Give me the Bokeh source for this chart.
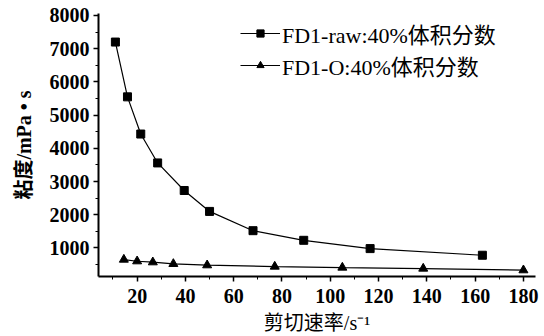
from bokeh.plotting import figure
from bokeh.models import Range1d, FixedTicker, Legend, LegendItem
from bokeh.embed import file_html
from bokeh.resources import INLINE

# Data
raw_x = [11, 16, 21.5, 28.5, 39.5, 50, 68, 89, 116.5, 163]
raw_y = [7200, 5550, 4430, 3560, 2730, 2100, 1520, 1230, 980, 780]
o_x = [14.5, 20, 26.5, 35, 49, 77, 105, 138.5, 180]
o_y = [650, 600, 570, 520, 480, 440, 410, 380, 330]

x_ticks = [20, 40, 60, 80, 100, 120, 140, 160, 180]
x_minor = [10, 30, 50, 70, 90, 110, 130, 150, 170]
y_ticks = [1000, 2000, 3000, 4000, 5000, 6000, 7000, 8000]
y_minor = [500, 1500, 2500, 3500, 4500, 5500, 6500, 7500]

label_raw = "FD1-raw:40%体积分数"
label_o = "FD1-O:40%体积分数"
x_title = "剪切速率/s⁻¹"
y_title = "粘度/mPa • s"

SERIF = "'Liberation Serif', 'Noto Sans CJK SC'"

p = figure(width=544, height=336, output_backend="svg", toolbar_location=None,
           x_range=Range1d(4, 185), y_range=Range1d(140, 8060),
           min_border_left=98, min_border_right=9, min_border_top=13, min_border_bottom=59)
p.outline_line_color = None
p.grid.visible = False
p.background_fill_color = "white"
p.border_fill_color = "white"

p.xaxis.ticker = FixedTicker(ticks=x_ticks, minor_ticks=x_minor)
p.yaxis.ticker = FixedTicker(ticks=y_ticks, minor_ticks=y_minor)

for ax in (p.xaxis, p.yaxis):
    ax.axis_line_width = 2
    ax.axis_line_color = "black"
    ax.major_tick_line_color = "black"
    ax.minor_tick_line_color = "black"
    ax.major_tick_line_width = 1.5
    ax.minor_tick_line_width = 1
    ax.major_tick_out = 5
    ax.major_tick_in = 0
    ax.minor_tick_out = 3
    ax.minor_tick_in = 0
    ax.major_label_text_font = "Liberation Serif"
    ax.major_label_text_font_style = "bold"
    ax.major_label_text_font_size = "20px"
    ax.major_label_text_color = "black"
    ax.axis_label_text_font = SERIF
    ax.axis_label_text_font_size = "20px"
    ax.axis_label_text_color = "black"

p.xaxis.major_label_standoff = 7
p.yaxis.major_label_standoff = 4
p.xaxis.axis_label = x_title
p.yaxis.axis_label = y_title
p.xaxis.axis_label_standoff = 6
p.yaxis.axis_label_standoff = 12
p.xaxis.axis_label_text_font_style = "normal"
p.yaxis.axis_label_text_font_style = "bold"

l1 = p.line(raw_x, raw_y, line_color="black", line_width=1.2)
s1 = p.scatter(raw_x, raw_y, marker="square", size=8, fill_color="black", line_color="black")
l2 = p.line(o_x, o_y, line_color="black", line_width=1.2)
s2 = p.scatter(o_x, o_y, marker="triangle", size=9, fill_color="black", line_color="black")

legend = Legend(items=[LegendItem(label=label_raw, renderers=[l1, s1]),
                       LegendItem(label=label_o, renderers=[l2, s2])],
                location=(142, 195), orientation="vertical")
legend.border_line_color = None
legend.background_fill_alpha = 0
legend.padding = 0
legend.margin = 0
legend.spacing = 0
legend.glyph_width = 40
legend.glyph_height = 18
legend.label_height = 18
legend.label_standoff = 2
legend.label_text_font = SERIF
legend.label_text_font_size = "22px"
legend.label_text_color = "black"
p.add_layout(legend, "center")

open("out.html", "w").write(file_html(p, INLINE))
